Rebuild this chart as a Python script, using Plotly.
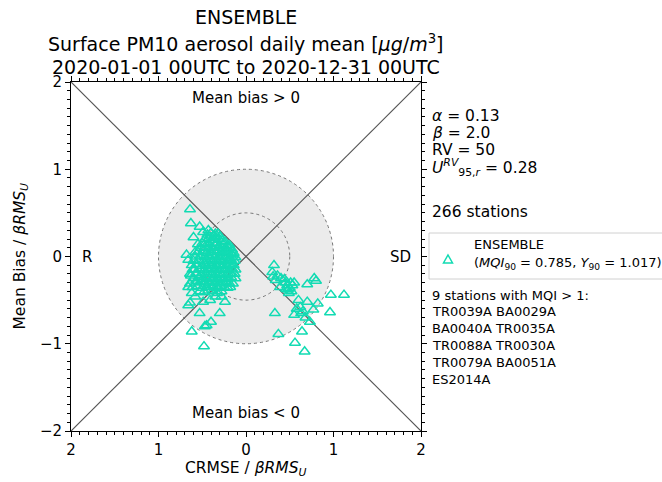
import plotly.graph_objects as go

# ---------------- data (normalised CRMSE, normalised mean bias) ----------------
# left group (negative-x side: R dominated)
left_x = [-0.64, -0.63, -0.53, -0.49, -0.43, -0.35, -0.30, -0.55, -0.68, -0.66,
          -0.64, -0.62, -0.58, -0.66, -0.64, -0.53, -0.30, -0.40, -0.45, -0.47,
          -0.62, -0.48, -0.24, -0.41, -0.49, -0.35, -0.28, -0.15, -0.18, -0.66,
          -0.60, -0.58, -0.61, -0.63, -0.57,
          -0.44, -0.40, -0.36, -0.32,
          -0.47, -0.43, -0.39, -0.35, -0.31, -0.27, -0.24,
          -0.50, -0.46, -0.42, -0.38, -0.34, -0.30, -0.26, -0.22, -0.19,
          -0.52, -0.47, -0.43, -0.39, -0.35, -0.31, -0.27, -0.23, -0.19, -0.16,
          -0.55, -0.49, -0.45, -0.41, -0.37, -0.33, -0.29, -0.25, -0.21, -0.17, -0.14,
          -0.58, -0.52, -0.47, -0.43, -0.39, -0.35, -0.31, -0.27, -0.23, -0.19, -0.15, -0.12,
          -0.60, -0.54, -0.49, -0.45, -0.41, -0.37, -0.33, -0.29, -0.25, -0.21, -0.17, -0.13,
          -0.62, -0.56, -0.50, -0.46, -0.42, -0.38, -0.34, -0.30, -0.26, -0.22, -0.18, -0.14,
          -0.59, -0.53, -0.48, -0.44, -0.40, -0.36, -0.32, -0.28, -0.24, -0.20, -0.16, -0.12,
          -0.64, -0.57, -0.51, -0.46, -0.42, -0.38, -0.34, -0.30, -0.26, -0.22, -0.18, -0.13,
          -0.60, -0.54, -0.49, -0.45, -0.41, -0.37, -0.33, -0.29, -0.25, -0.21, -0.17, -0.12,
          -0.57, -0.52, -0.47, -0.43, -0.39, -0.35, -0.31, -0.27, -0.23, -0.19,
          -0.61, -0.55, -0.50, -0.45, -0.41, -0.37, -0.33, -0.29, -0.25, -0.21,
          -0.53, -0.48, -0.43, -0.38, -0.33, -0.28]
left_y = [0.54, 0.38, 0.34, 0.28, 0.30, 0.26, 0.23, 0.14, 0.02, -0.04,
          -0.31, -0.42, -0.46, -0.56, -0.53, -0.65, -0.65, -0.75, -0.79, -0.80,
          -0.86, -1.03, -0.52, -0.50, -0.52, -0.46, -0.46, -0.31, -0.35, -0.35,
          0.22, 0.05, -0.15, -0.22, -0.28,
          0.25, 0.27, 0.24, 0.26,
          0.20, 0.21, 0.19, 0.22, 0.20, 0.18, 0.17,
          0.15, 0.16, 0.14, 0.16, 0.15, 0.13, 0.14, 0.12, 0.13,
          0.10, 0.11, 0.09, 0.10, 0.12, 0.10, 0.09, 0.08, 0.10, 0.08,
          0.05, 0.06, 0.04, 0.05, 0.07, 0.05, 0.04, 0.06, 0.05, 0.03, 0.04,
          0.00, 0.01, -0.01, 0.00, 0.02, 0.00, -0.01, 0.01, 0.00, -0.02, 0.01, -0.01,
          -0.05, -0.04, -0.06, -0.05, -0.03, -0.05, -0.06, -0.04, -0.05, -0.06, -0.04, -0.05,
          -0.10, -0.09, -0.11, -0.10, -0.08, -0.10, -0.11, -0.09, -0.10, -0.11, -0.09, -0.10,
          -0.15, -0.14, -0.16, -0.15, -0.13, -0.15, -0.16, -0.14, -0.15, -0.16, -0.14, -0.15,
          -0.20, -0.19, -0.21, -0.20, -0.18, -0.20, -0.21, -0.19, -0.20, -0.21, -0.19, -0.20,
          -0.25, -0.24, -0.26, -0.25, -0.23, -0.25, -0.26, -0.24, -0.25, -0.26, -0.24, -0.25,
          -0.30, -0.29, -0.31, -0.30, -0.28, -0.30, -0.31, -0.29, -0.30, -0.31,
          -0.35, -0.34, -0.36, -0.35, -0.33, -0.35, -0.36, -0.34, -0.35, -0.36,
          -0.40, -0.41, -0.39, -0.40, -0.42, -0.40]
# right group (positive-x side: SD dominated)
right_x = [0.32, 0.30, 0.31, 0.34, 0.36, 0.40, 0.44, 0.45, 0.39, 0.47, 0.48, 0.50,
           0.52, 0.49, 0.53, 0.55, 0.51, 0.46,
           0.70, 0.78, 0.80, 0.97, 1.12, 0.33, 0.62, 0.65, 0.70, 0.73, 0.55, 0.63,
           0.82, 0.96, 0.37, 0.64, 0.56, 0.67, 0.68, 0.60, 0.58, 0.77]
right_y = [-0.10, -0.18, -0.23, -0.27, -0.22, -0.25, -0.26, -0.30, -0.35, -0.33, -0.38, -0.36,
           -0.40, -0.42, -0.33, -0.30, -0.30, -0.37,
           -0.32, -0.25, -0.28, -0.44, -0.44, -0.65, -0.58, -0.63, -0.52, -0.75, -0.67, -0.65,
           -0.54, -0.64, -0.89, -0.86, -0.99, -1.09, -0.70, -0.50, -0.60, -0.61]

tick_vals = [-2, -1, 0, 1, 2]
x_tick_text = ["2", "1", "0", "1", "2"]
y_tick_text = ["\u22122", "\u22121", "0", "1", "2"]

title_lines = ["ENSEMBLE",
               "Surface PM10 aerosol daily mean [<i>μg</i>/<i>m</i><sup>3</sup>]",
               "2020-01-01 00UTC to 2020-12-31 00UTC"]
param_lines = ["<i>α</i> = 0.13", "<i>β</i> = 2.0", "RV = 50",
               "<i>U</i><sup><i>RV</i></sup><sub>95,<i>r</i></sub> = 0.28"]
n_stations = "266 stations"
legend_lines = ["ENSEMBLE",
                "(<i>MQI</i><sub>90</sub> = 0.785, <i>Y</i><sub>90</sub> = 1.017)"]
bad_lines = ["9 stations with MQI > 1:", "TR0039A BA0029A", "BA0040A TR0035A",
             "TR0088A TR0030A", "TR0079A BA0051A", "ES2014A"]

COLOR = "#12dbb3"
FONT = "DejaVu Sans"
W, H = 662, 482
L, R, T, B = 71, 241, 82, 51
PW, PH = W - L - R, H - T - B


def px(x):
    return (x - L) / PW


def py(y):
    return (H - B - y) / PH


fig = go.Figure()
fig.add_trace(go.Scatter(
    x=left_x + right_x, y=left_y + right_y, mode="markers",
    marker=dict(symbol="triangle-up-open", size=9.5, color=COLOR,
                line=dict(width=1.5, color=COLOR)),
    showlegend=False, cliponaxis=False))

shapes = [
    dict(type="circle", xref="x", yref="y", x0=-1, x1=1, y0=-1, y1=1,
         fillcolor="#ebebeb", line=dict(color="#777777", width=1, dash="dot"), layer="below"),
    dict(type="circle", xref="x", yref="y", x0=-0.5, x1=0.5, y0=-0.5, y1=0.5,
         line=dict(color="#777777", width=1, dash="dot"), layer="below"),
    dict(type="line", xref="x", yref="y", x0=-2, y0=2, x1=2, y1=-2,
         line=dict(color="#555555", width=1.2), layer="below"),
    dict(type="line", xref="x", yref="y", x0=-2, y0=-2, x1=2, y1=2,
         line=dict(color="#555555", width=1.2), layer="below"),
    # legend frame
    dict(type="rect", xref="paper", yref="paper", x0=px(429), x1=px(700),
         y0=py(279), y1=py(233), line=dict(color="#d0d0d0", width=1), fillcolor="white"),
    # legend symbol
    dict(type="path", xref="paper", yref="paper",
         path="M {:.4f},{:.4f} L {:.4f},{:.4f} L {:.4f},{:.4f} Z".format(
             px(443.5), py(263), px(452.5), py(263), px(448), py(255)),
         line=dict(color=COLOR, width=1.5)),
]

ann = []
for txt, yy in zip(title_lines, [17, 43, 67]):
    ann.append(dict(text=txt, x=0.5, y=py(yy), xref="paper", yref="paper",
                    xanchor="center", yanchor="middle", showarrow=False,
                    font=dict(size=19, color="black", family=FONT)))
for txt, yy in zip(param_lines + [n_stations], [116, 133, 150, 167, 212]):
    ann.append(dict(text=txt, x=px(430), y=py(yy), xref="paper", yref="paper",
                    xanchor="left", yanchor="middle", showarrow=False,
                    font=dict(size=15.5, color="black", family=FONT)))
for txt, yy in zip(legend_lines, [245, 263]):
    ann.append(dict(text=txt, x=px(472), y=py(yy), xref="paper", yref="paper",
                    xanchor="left", yanchor="middle", showarrow=False,
                    font=dict(size=13, color="black", family=FONT)))
for txt, yy in zip(bad_lines, [295, 311, 328, 345, 362, 379]):
    ann.append(dict(text=txt, x=px(430), y=py(yy), xref="paper", yref="paper",
                    xanchor="left", yanchor="middle", showarrow=False,
                    font=dict(size=13, color="black", family=FONT)))
for txt, xx, yy in [("Mean bias > 0", 0, 1.82), ("Mean bias < 0", 0, -1.79),
                    ("R", -1.82, 0), ("SD", 1.76, 0)]:
    ann.append(dict(text=txt, x=xx, y=yy, xref="x", yref="y",
                    xanchor="center", yanchor="middle", showarrow=False,
                    font=dict(size=15, color="black", family=FONT)))
ann.append(dict(text="CRMSE / <i>βRMS</i><sub><i>U</i></sub>", x=0.5, y=py(469),
                xref="paper", yref="paper", xanchor="center", yanchor="middle",
                showarrow=False, font=dict(size=15.5, color="black", family=FONT)))
ann.append(dict(text="Mean Bias / <i>βRMS</i><sub><i>U</i></sub>", x=px(20), y=0.5,
                xref="paper", yref="paper", xanchor="center", yanchor="middle",
                textangle=-90, showarrow=False,
                font=dict(size=15.5, color="black", family=FONT)))

axis_common = dict(range=[-2, 2], showgrid=False, zeroline=False, showline=True,
                   linecolor="black", linewidth=1, mirror="allticks",
                   ticks="outside", ticklen=5, tickwidth=1, tickcolor="black",
                   tickvals=tick_vals,
                   minor=dict(dtick=0.1, ticks="outside", ticklen=3, tickcolor="black",
                              showgrid=False),
                   tickfont=dict(size=15, color="black", family=FONT))

fig.update_layout(
    width=W, height=H, margin=dict(l=L, r=R, t=T, b=B, autoexpand=False),
    paper_bgcolor="white", plot_bgcolor="white",
    xaxis=dict(axis_common, ticktext=x_tick_text),
    yaxis=dict(axis_common, ticktext=y_tick_text),
    shapes=shapes, annotations=ann, showlegend=False,
    font=dict(family=FONT),
)

fig.write_html("out.html")
